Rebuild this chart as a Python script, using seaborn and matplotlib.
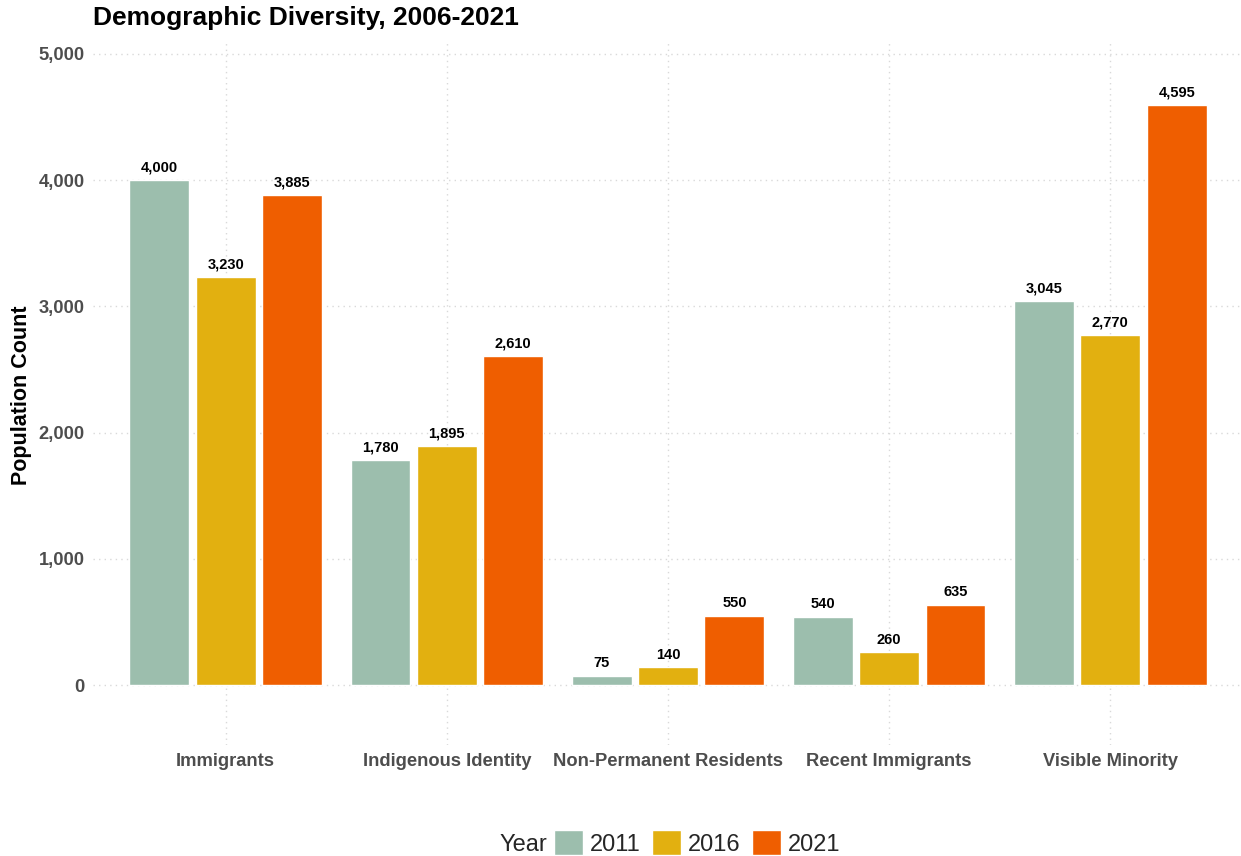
import matplotlib
matplotlib.use("Agg")
import matplotlib.pyplot as plt
import seaborn as sns
import pandas as pd
from matplotlib.ticker import FuncFormatter
from matplotlib.offsetbox import HPacker

categories = ["Immigrants", "Indigenous Identity", "Non-Permanent Residents",
              "Recent Immigrants", "Visible Minority"]
years = ["2011", "2016", "2021"]
values_2011 = [4000, 1780, 75, 540, 3045]
values_2016 = [3230, 1895, 140, 260, 2770]
values_2021 = [3885, 2610, 550, 635, 4595]
palette = {"2011": "#9CBEAD", "2016": "#E2B010", "2021": "#EF5E00"}

rows = []
for yr, vals in zip(years, [values_2011, values_2016, values_2021]):
    for cat, v in zip(categories, vals):
        rows.append({"Category": cat, "Year": yr, "Count": v})
df = pd.DataFrame(rows)

sns.set_theme(style="white")
plt.rcParams["font.family"] = ["Liberation Sans", "DejaVu Sans"]

W, H = 1241, 856
fig = plt.figure(figsize=(W / 100, H / 100), dpi=100)
left, right, top, bottom = 93, 1243, 40, 745
ax = fig.add_axes([left / W, (H - bottom) / H, (right - left) / W, (bottom - top) / H])

sns.barplot(data=df, x="Category", y="Count", hue="Year", order=categories,
            hue_order=years, palette=palette, width=0.9, gap=0.1,
            saturation=1, errorbar=None, ax=ax, zorder=3)

for container in ax.containers:
    ax.bar_label(container, labels=[f"{int(b.get_height()):,}" for b in container],
                 padding=4, fontsize=10.5, fontweight="bold", color="black")

ax.set_xlim(-0.6, len(categories) - 0.4)
ax.set_ylim(-475, 5110)
ax.set_yticks([0, 1000, 2000, 3000, 4000, 5000])
ax.yaxis.set_major_formatter(FuncFormatter(lambda v, p: f"{int(v):,}"))

ax.grid(True, which="major", axis="both", linestyle=(0, (1, 3)),
        color="#D9D9D9", linewidth=1.0, zorder=0)
for s in ax.spines.values():
    s.set_visible(False)
ax.tick_params(axis="both", length=0)
ax.tick_params(axis="x", pad=6)
ax.tick_params(axis="y", pad=6)
for lab in ax.get_xticklabels() + ax.get_yticklabels():
    lab.set_fontweight("bold")
    lab.set_fontsize(13.2)
    lab.set_color("#4D4D4D")

ax.set_xlabel("")
ax.set_ylabel("")
fig.text(22 / W, 1 - 395 / H, "Population Count", fontsize=15.5, fontweight="bold",
         color="black", rotation=90, ha="center", va="center")
fig.text(93 / W, 1 - 18 / H, "Demographic Diversity, 2006-2021", fontsize=19,
         fontweight="bold", color="black", va="center", ha="left")

handles, labels = ax.get_legend_handles_labels()
ax.legend_.remove()
leg = fig.legend(handles, labels, title="Year", loc="center", ncol=3,
                 bbox_to_anchor=(670 / W, 1 - 843 / H), frameon=False,
                 fontsize=17, title_fontsize=17, handlelength=1.2, handleheight=1.2,
                 handletextpad=0.3, columnspacing=0.5)
# legend title sits inline, to the left of the keys
box = leg._legend_box
box._children = [HPacker(children=[box._children[0], box._children[1]],
                         align="baseline", pad=0, sep=5)]

fig.savefig("out.png", dpi=100, facecolor="white")
